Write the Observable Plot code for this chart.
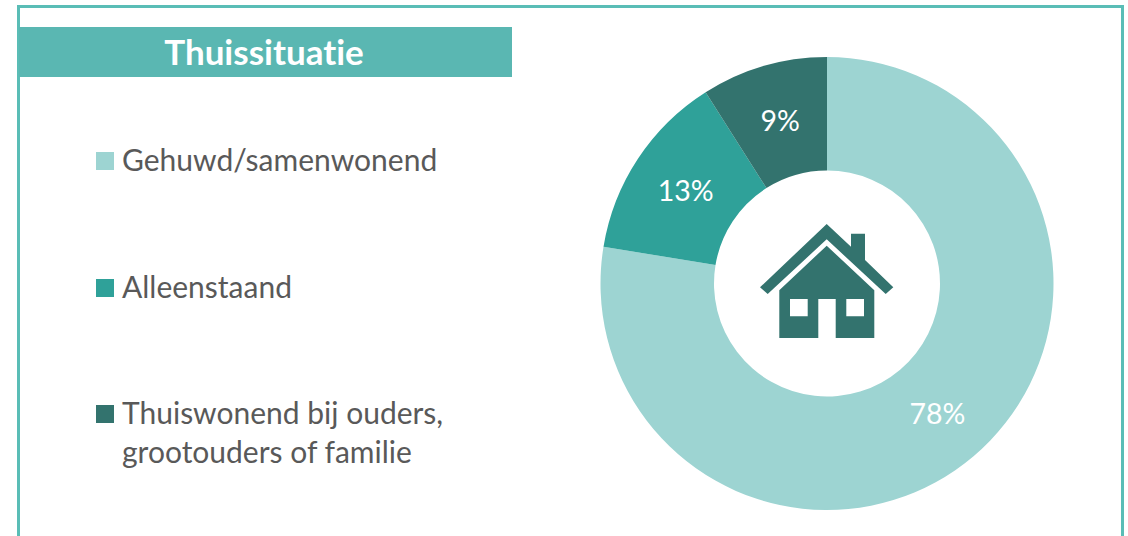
<!DOCTYPE html>
<html lang="nl">
<head>
<meta charset="utf-8">
<script src="https://cdn.jsdelivr.net/npm/d3@7"></script>
<script src="https://cdn.jsdelivr.net/npm/@observablehq/plot@0.6"></script>
<style>
  html, body { margin: 0; padding: 0; background: #fff; overflow: hidden; }
  #page { position: relative; width: 1128px; height: 536px; overflow: hidden; font-family: Lato, sans-serif; font-variant-ligatures: none; }
  #frame { position: absolute; left: 17px; top: 5px; width: 1101px; height: 560px; border: 3px solid #5ABDB6; }
  #band { position: absolute; left: 19px; top: 27px; width: 493px; height: 50px; background: #5AB7B2; color: #fff;
          font-weight: 700; font-size: 35px; line-height: 49px; text-align: center; text-indent: -3px; }
  #chart { position: absolute; left: 0; top: 0; }
  #chart svg { background: transparent; display: block; }
  #chart text { font-variant-ligatures: none; }
  .key { position: absolute; left: 96px; display: flex; align-items: flex-start; color: #595959; font-size: 30px; line-height: 39px; }
  .key i { display: block; width: 18px; height: 18px; margin: 12px 8px 0 0; flex: none; }
  #house { position: absolute; left: 0; top: 0; }
</style>
</head>
<body>
<div id="page">
  <div id="frame"></div>
  <div id="band"></div>
  <div id="chart"></div>
  <div id="legend"></div>
  <svg id="house" width="1128" height="536" aria-label="huis-icoon">
    <path fill="#33736E" d="M826.7 224 L851 246.7 L851 233.7 L865 233.7 L865 260 L893.3 287.3 L885.7 294 L826.7 239.3 L767.7 294 L760 287.3 Z"/>
    <path fill="#33736E" fill-rule="evenodd" d="M826.7 245.7 L874.3 290.3 L874.3 338 L835.7 338 L835.7 299 L818.3 299 L818.3 338 L779.3 338 L779.3 290.3 Z M790 299 L790 316.3 L807.7 316.3 L807.7 299 Z M846.3 299 L846.3 316.3 L864 316.3 L864 299 Z"/>
  </svg>
</div>
<script>
const title = "Thuissituatie";
const categories = ["Gehuwd/samenwonend", "Alleenstaand", "Thuiswonend bij ouders, grootouders of familie"];
const legendLines = [["Gehuwd/samenwonend"], ["Alleenstaand"], ["Thuiswonend bij ouders,", "grootouders of familie"]];
const shares = [77.6, 13.4, 9];
const colours = ["#9DD4D2", "#2FA199", "#33736E"];

// layout
const W = 1128, H = 536;
const cx = 827, cy = 283.5, outer = 226.5, inner = 113, labelRadius = 170;
const legendTops = [140, 267, 393];

// slices from the shares
const arcs = d3.pie().sort(null)(shares);
const slices = categories.map((category, i) => {
  const mid = (arcs[i].startAngle + arcs[i].endAngle) / 2;
  return {
    category, share: shares[i],
    startAngle: arcs[i].startAngle, endAngle: arcs[i].endAngle,
    lx: cx + labelRadius * Math.sin(mid),
    ly: cy - labelRadius * Math.cos(mid) + 1.5,
    label: `${Math.round(shares[i])}%`
  };
});

const arcPath = d3.arc().innerRadius(inner).outerRadius(outer);

const donut = Plot.dot(slices, {
  x: () => cx, y: () => cy, fill: "category",
  render(index, scales, values, dimensions, context) {
    const g = d3.create("svg:g").attr("aria-label", "donut");
    for (const i of index) {
      g.append("path")
        .attr("transform", `translate(${values.x[i]},${values.y[i]})`)
        .attr("d", arcPath({startAngle: slices[i].startAngle, endAngle: slices[i].endAngle}))
        .attr("fill", values.fill[i])
        .append("title").text(`${slices[i].category}: ${slices[i].label}`);
    }
    return g.node();
  }
});

const chart = Plot.plot({
  width: W, height: H,
  marginTop: 0, marginRight: 0, marginBottom: 0, marginLeft: 0,
  x: {domain: [0, W], range: [0, W], axis: null},
  y: {domain: [0, H], range: [0, H], axis: null},
  color: {domain: categories, range: colours},
  style: {background: "transparent"},
  marks: [
    donut,
    Plot.text(slices, {
      x: "lx", y: "ly", text: "label", fill: "#fff",
      fontSize: 28.5, fontFamily: "Lato, sans-serif", textAnchor: "middle"
    })
  ]
});
document.getElementById("chart").append(chart);
document.getElementById("band").textContent = title;

const legend = document.getElementById("legend");
legendLines.forEach((lines, i) => {
  const row = document.createElement("div");
  row.className = "key";
  row.style.top = legendTops[i] + "px";
  const swatch = document.createElement("i");
  swatch.style.background = colours[i];
  const text = document.createElement("span");
  text.innerHTML = lines.join("<br>");
  row.append(swatch, text);
  legend.append(row);
});
</script>
</body>
</html>
